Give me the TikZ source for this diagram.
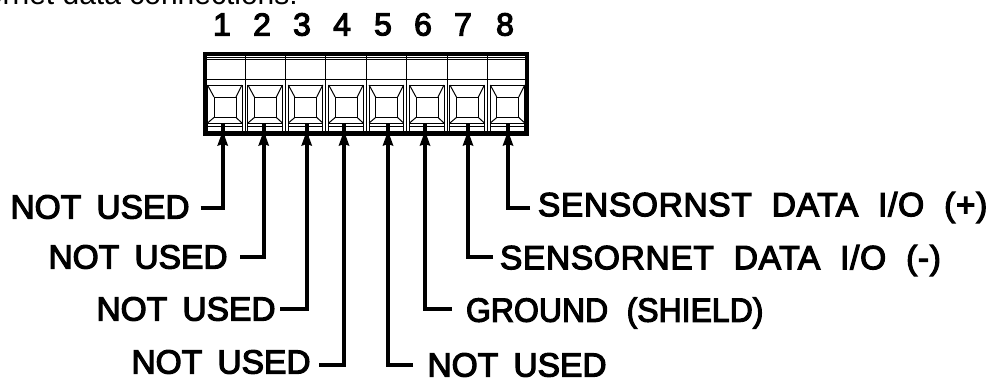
\documentclass[tikz,border=0pt]{standalone}
\usepackage{fontspec}
\usepackage{graphicx}
\setmainfont{Liberation Sans}
\newfontfamily\lblfont{Liberation Sans}[FakeBold=3.5]
\newfontfamily\lblwide{Liberation Sans}[FakeBold=3.5,LetterSpace=2]
\newcommand{\wgap}{\hspace{10pt} }
\newcommand{\ngap}{\hspace{6pt} }
\begin{document}
\begin{tikzpicture}[x=1pt,y=-1pt,
  wire/.style={line width=4pt,line cap=butt,line join=miter},
  thin line/.style={line width=1pt},
  wall/.style={line width=4.5pt},
  lab/.style={inner sep=0pt,outer sep=0pt,font=\lblfont\fontsize{33.5}{33.5}\selectfont},
  widelab/.style={inner sep=0pt,outer sep=0pt,font=\lblwide\fontsize{33.5}{33.5}\selectfont},
  pinnum/.style={inner sep=0pt,outer sep=0pt,font=\lblfont\fontsize{32}{32}\selectfont},
  head/.style={fill=black}]
\useasboundingbox (0,0) rectangle (993,381);
% cut-off caption line
\node[anchor=base east,inner sep=0pt,font=\fontsize{30}{30}\selectfont] (cap) at (298,4) {ornet data connections:};
% pin numbers
\foreach \n/\x in {1/222,2/262,3/302,4/342,5/383,6/423,7/463,8/505}
  \node[pinnum] (num\n) at (\x,24.5) {\n};
% connector body
\draw[wall] (205.2,54.2) rectangle (526.8,133.5);
\draw[thin line] (207,57.5) -- (525,57.5) (207,59.5) -- (525,59.5) (207,79) -- (525,79);
\foreach \i in {1,...,7}{
  \pgfmathsetmacro\dx{204.6+40.4*\i}
  \draw[thin line] (\dx,56) -- (\dx,132);
}
\foreach \i in {0,...,7}{
  \begin{scope}[xshift=40.4*\i pt]
    \draw[thin line] (207.5,132) -- (207.5,85) -- (242,85) -- (242,132);
    \draw[thin line] (214,97) rectangle (236,117.5);
    \draw[thin line] (207.5,85) -- (214,97) (242,85) -- (236,97)
       (207.5,123) -- (214,117.5) (242,123) -- (236,117.5);
    \draw[thin line] (207.5,123) -- (242,123) (207.5,126.5) -- (242,126.5);
  \end{scope}
}
% labels
\node[lab,anchor=west] (l1) at (10.5,207) {NOT\ngap USED};
\node[lab,anchor=west] (l2) at (48.5,257) {NOT\ngap USED};
\node[lab,anchor=west] (l3) at (96.5,309) {NOT\ngap USED};
\node[lab,anchor=west] (l4) at (131.5,362) {NOT\ngap USED};
\node[lab,anchor=west] (l5) at (427.5,365) {NOT\ngap USED};
\node[lab,anchor=west] (l6) at (466,313) {\scalebox{0.955}[1]{GROUND\wgap (SHIELD)}};
\node[widelab,anchor=west] (l7) at (500,260.5) {SENSORNET\wgap DATA\wgap I/O\wgap (-)};
\node[widelab,anchor=west] (l8) at (538,207.5) {SENSORNST\wgap DATA\wgap I/O\wgap (+)};
% connector ends
\foreach \n/\x/\y/\ex in {1/222.7/207.5/200.7,2/263.7/256.5/240,3/306.7/308.5/280,4/344/365/319,
                          5/388/365/413,6/425/308.5/452,7/468/257/493,8/508/207.5/530}{
  \coordinate (t\n) at (\x,123);
  \coordinate (e\n) at (\ex,\y);
  \draw[wire] (e\n) -| (t\n);
  \fill[head] (t\n) ++(0,8) -- ++(-5.5,15) -- ++(5.5,-2) -- ++(5.5,2) -- cycle;
}
\end{tikzpicture}
\end{document}
